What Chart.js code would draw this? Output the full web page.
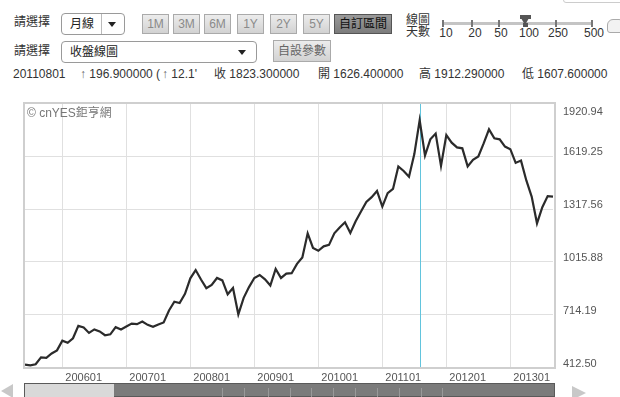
<!DOCTYPE html>
<html><head><meta charset="utf-8">
<script src="https://cdn.jsdelivr.net/npm/chart.js@4.4.0/dist/chart.umd.min.js"></script>
<style>
html,body{margin:0;padding:0;background:#fff;}
body{width:620px;height:397px;position:relative;overflow:hidden;font-family:"Liberation Sans",Arial,"Noto Sans CJK TC",sans-serif;font-size:12px;color:#333;}
.abs{position:absolute;white-space:nowrap;line-height:14px;}
.sel{position:absolute;border:1px solid #9a9a9a;border-radius:4px;background:#fff;box-sizing:border-box;}
.sel span{position:absolute;top:3px;left:8px;font-size:12px;color:#222;line-height:14px;}
.arr{position:absolute;width:0;height:0;border-left:4px solid transparent;border-right:4px solid transparent;border-top:5px solid #222;}
.btn{position:absolute;box-sizing:border-box;border:1px solid #aaa;background:linear-gradient(#ececec,#d2d2d2);color:#8a8a8a;text-align:center;font-size:12px;height:20px;line-height:18px;top:14px;}
.btn.on{background:linear-gradient(#9a9a9a,#7c7c7c);color:#111;border-color:#555;}
.tk{position:absolute;width:2px;height:7px;background:#777;top:20px;}
.sn{position:absolute;top:26px;font-size:12px;color:#333;transform:translateX(-50%);line-height:14px;}
#wrap{position:absolute;left:0;top:90px;width:620px;height:293px;}
.sl{position:absolute;top:388px;width:1px;height:9px;background:#999;}
</style>
</head><body>
<!-- row 1 -->
<div class="abs" style="left:14px;top:15px;">請選擇</div>
<div class="sel" style="left:61px;top:13px;width:64px;height:22px;"><span>月線</span>
  <div style="position:absolute;left:39px;top:0;width:1px;height:20px;background:#bbb;"></div>
  <div class="arr" style="left:46px;top:8px;"></div></div>
<div class="btn" style="left:142px;width:27px;">1M</div>
<div class="btn" style="left:173px;width:27px;">3M</div>
<div class="btn" style="left:204px;width:27px;">6M</div>
<div class="btn" style="left:237px;width:27px;">1Y</div>
<div class="btn" style="left:270px;width:27px;">2Y</div>
<div class="btn" style="left:303px;width:27px;">5Y</div>
<div class="btn on" style="left:334px;width:58px;">自訂區間</div>
<div class="abs" style="left:406px;top:14px;line-height:12px;">線圖<br>天數</div>
<div style="position:absolute;left:443px;top:22px;width:149px;height:3px;background:#c4c4c4;"></div>
<div class="tk" style="left:442px;"></div>
<div class="tk" style="left:471px;"></div>
<div class="tk" style="left:498px;"></div>
<div class="tk" style="left:555px;"></div>
<div class="tk" style="left:591px;"></div>
<div style="position:absolute;left:520px;top:15px;width:11px;height:4px;background:#555;"></div>
<div style="position:absolute;left:521px;top:18px;width:0;height:0;border-left:4.5px solid transparent;border-right:4.5px solid transparent;border-top:7px solid #555;"></div>
<div style="position:absolute;left:523px;top:23px;width:5px;height:4px;background:#555;"></div>
<div class="sn" style="left:446px;">10</div>
<div class="sn" style="left:475px;">20</div>
<div class="sn" style="left:501px;">50</div>
<div class="sn" style="left:529px;">100</div>
<div class="sn" style="left:558px;">250</div>
<div class="sn" style="left:594px;">500</div>
<div style="position:absolute;left:563px;top:-5px;width:60px;height:6px;border:1px solid #ccc;border-radius:3px;"></div>
<div style="position:absolute;left:607px;top:19px;width:16px;height:12px;border:1px solid #aaa;border-radius:6px 6px 3px 3px;background:#f2f2f2;"></div>
<!-- row 2 -->
<div class="abs" style="left:14px;top:44px;">請選擇</div>
<div class="sel" style="left:61px;top:41px;width:196px;height:22px;"><span>收盤線圖</span>
  <div class="arr" style="left:176px;top:8px;"></div></div>
<div class="btn" style="left:273px;top:40px;width:58px;height:22px;line-height:20px;color:#666;">自設參數</div>
<!-- row 3 -->
<div class="abs" style="left:13px;top:67px;">20110801</div>
<div class="abs" style="left:80px;top:67px;"><span style="color:#666">↑</span> 196.900000 (</div>
<div class="abs" style="left:162px;top:67px;width:50px;overflow:hidden;"><span style="color:#666">↑</span> 12.1'</div>
<div class="abs" style="left:214px;top:67px;">收 1823.300000</div>
<div class="abs" style="left:318px;top:67px;">開 1626.400000</div>
<div class="abs" style="left:419px;top:67px;">高 1912.290000</div>
<div class="abs" style="left:522px;top:67px;">低 1607.600000</div>

<div id="wrap"><canvas id="c" width="620" height="293"></canvas></div>
<div class="abs" style="left:27px;top:106px;color:#777;font-size:12px;">© cnYES鉅亨網</div>

<!-- scrollbar -->
<div style="position:absolute;left:1px;top:384px;width:0;height:0;border-top:7px solid transparent;border-bottom:7px solid transparent;border-right:12px solid #c8c8c8;"></div>
<div style="position:absolute;left:24px;top:383px;width:531px;height:14px;background:#7b7b7b;border:1px solid #5a5a5a;box-sizing:border-box;"></div>
<div style="position:absolute;left:25px;top:384px;width:89px;height:13px;background:#d9d9d9;"></div>
<div class="sl" style="left:222px"></div><div class="sl" style="left:244px"></div><div class="sl" style="left:268px"></div>
<div class="sl" style="left:290px"></div><div class="sl" style="left:311px"></div><div class="sl" style="left:333px"></div>
<div class="sl" style="left:355px"></div><div class="sl" style="left:377px"></div><div class="sl" style="left:399px"></div>
<div class="sl" style="left:421px"></div><div class="sl" style="left:442px"></div>
<div style="position:absolute;left:572px;top:386px;width:0;height:0;border-top:7px solid transparent;border-bottom:7px solid transparent;border-left:14px solid #c8c8c8;"></div>

<script>
const months = [
 '200506','200507','200508','200509','200510','200511','200512',
 '200601','200602','200603','200604','200605','200606','200607','200608','200609','200610','200611','200612',
 '200701','200702','200703','200704','200705','200706','200707','200708','200709','200710','200711','200712',
 '200801','200802','200803','200804','200805','200806','200807','200808','200809','200810','200811','200812',
 '200901','200902','200903','200904','200905','200906','200907','200908','200909','200910','200911','200912',
 '201001','201002','201003','201004','201005','201006','201007','201008','201009','201010','201011','201012',
 '201101','201102','201103','201104','201105','201106','201107','201108','201109','201110','201111','201112',
 '201201','201202','201203','201204','201205','201206','201207','201208','201209','201210','201211','201212',
 '201301','201302','201303','201304','201305','201306','201307','201308','201309'
];
const closePrices = [
 432, 428, 434, 473, 470, 495, 513,
 568, 556, 582, 652, 643, 612, 632, 621, 599, 604, 645, 632,
 649, 665, 662, 677, 658, 647, 660, 672, 740, 790, 782, 835,
 923, 970, 916, 867, 886, 925, 911, 832, 868, 718, 812, 873,
 925, 942, 917, 882, 977, 925, 950, 952, 1005, 1042, 1179, 1096,
 1080, 1105, 1113, 1179, 1212, 1242, 1181, 1248, 1303, 1358, 1385, 1420,
 1331, 1408, 1432, 1560, 1534, 1501, 1630, 1823, 1622, 1714, 1747, 1563,
 1738, 1695, 1668, 1663, 1560, 1598, 1617, 1691, 1771, 1720, 1714, 1673,
 1658, 1580, 1593, 1480, 1388, 1236, 1328, 1391, 1388
];
const yTickValues = [412.50, 563.34, 714.19, 865.03, 1015.88, 1166.72, 1317.56, 1468.41, 1619.25, 1770.10, 1920.94];
const yTickLabels = ['412.50', '', '714.19', '', '1015.88', '', '1317.56', '', '1619.25', '', '1920.94'];
const xTickLabels = ['200601', '200701', '200801', '200901', '201001', '201101', '201201', '201301'];
const highlightMonth = '201108';

const framePlugin = {
  id: 'frame',
  beforeDatasetsDraw(chart) {
    const {ctx, chartArea: a, scales} = chart;
    const x = Math.round(scales.x.getPixelForValue(months.indexOf(highlightMonth))) + 0.5;
    ctx.save();
    ctx.strokeStyle = '#62c4dd';
    ctx.lineWidth = 1;
    ctx.beginPath(); ctx.moveTo(x, a.top); ctx.lineTo(x, a.bottom); ctx.stroke();
    ctx.restore();
  },
  afterDraw(chart) {
    const {ctx, chartArea: a} = chart;
    ctx.save();
    ctx.strokeStyle = '#cfcfcf';
    ctx.lineWidth = 2;
    ctx.strokeRect(a.left - 1, a.top, a.right - a.left + 3, a.bottom - a.top);
    ctx.restore();
  }
};

new Chart(document.getElementById('c'), {
  type: 'line',
  data: {
    labels: months,
    datasets: [{
      data: closePrices,
      borderColor: '#2b2b2b',
      borderWidth: 2.2,
      pointRadius: 0,
      tension: 0,
      fill: false
    }]
  },
  options: {
    responsive: false,
    devicePixelRatio: 1,
    animation: false,
    events: [],
    layout: { padding: { left: 25, top: 13, right: 0, bottom: 0 } },
    plugins: { legend: { display: false }, tooltip: { enabled: false } },
    scales: {
      x: {
        type: 'category',
        offset: false,
        border: { display: false },
        grid: {
          drawTicks: false,
          color: (c) => xTickLabels.includes(months[c.index]) ? '#e0e0e0' : 'rgba(0,0,0,0)'
        },
        ticks: {
          autoSkip: false,
          maxRotation: 0,
          minRotation: 0,
          align: 'start',
          labelOffset: 3,
          padding: 3,
          color: '#555',
          font: { family: '"Liberation Sans", Arial, sans-serif', size: 11 },
          callback: (v, i) => xTickLabels.includes(months[i]) ? months[i] : ''
        },
        afterFit: (s) => { s.height = 15; s.paddingLeft = 0; s.paddingRight = 0; }
      },
      y: {
        position: 'right',
        min: 412.50,
        max: 1920.94,
        border: { display: false },
        grid: { drawTicks: false, color: '#e0e0e0' },
        afterBuildTicks: (s) => { s.ticks = yTickValues.map(v => ({ value: v })); },
        ticks: {
          padding: 10,
          labelOffset: -4,
          color: '#555',
          font: { family: '"Liberation Sans", Arial, sans-serif', size: 11 },
          callback: (v, i) => i === yTickLabels.length - 1 ? ['', '', yTickLabels[i]] : yTickLabels[i]
        },
        afterFit: (s) => { s.width = 67; s.paddingTop = 0; s.paddingBottom = 0; }
      }
    }
  },
  plugins: [framePlugin]
});
</script>
</body></html>
